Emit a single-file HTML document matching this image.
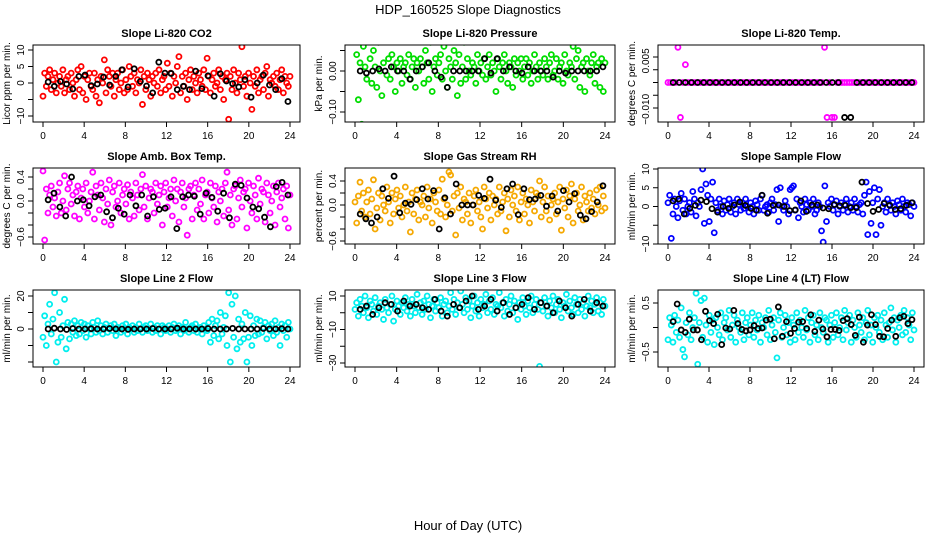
<!DOCTYPE html>
<html><head><meta charset="utf-8"><style>
html,body{margin:0;padding:0;background:#fff}
svg{display:block;font-family:"Liberation Sans",sans-serif}
</style></head><body>
<svg id="chart" width="936" height="540" viewBox="0 0 936 540" xmlns="http://www.w3.org/2000/svg">
<text x="468" y="14" text-anchor="middle" font-size="13">HDP_160525  Slope Diagnostics</text>
<text x="468" y="530" text-anchor="middle" font-size="13">Hour of Day (UTC)</text>
</svg>
<script>
const xTicks=[0,4,8,12,16,20,24];
const co2Vals=[-4,3,-1,2,4,-2,1,3,-3,0,2,-1,4,-3,1,2,-2,3,0,-4,1,4,-2,5,-3,2,-5,1,3,-1,-2,3,-4,1,-6,2,0,7,-3,4,2,-1,3,-4,1,3,-2,0,4,-3,1,-2,5,2,-1,3,-3,1,0,4,-6.5,2,-2,3,1,-4,2,0,3,-1,4,-3,1,2,-2,6,-1,3,-4,2,0,5,8,-3,2,-1,3,-5,1,4,-2,2,0,-3,3,1,-1,4,-2,7.5,2,-3,1,3,-1,0,4,-2,2,-5,1,3,-11,2,-2,4,0,-3,3,1,11,-1,2,-4,3,0,-8,2,-1,4,-3,1,2,-2,3,5,-4,1,0,2,-1,3,-2,1,4,-3,2,0,-1,2];
const co2Black=[0.3,-1,0.5,-0.3,-1.8,2,2.4,-0.8,-0.3,1.8,-0.6,2,4,-1.2,4.3,0.5,-0.9,-3,6.3,3,2.9,-2,-1,-2,3.6,-1.7,2.2,-4,2.8,0.6,-0.2,-1.2,1,-4.3,0,2.4,-0.6,-2,1.3,-5.6];
const presVals=[.1,.04,-.07,.02,-.13,.06,.01,-.02,.08,.03,-.03,.05,.01,-.04,.07,0,-.06,.02,.09,-.01,.03,-.02,.04,.01,-.05,.02,0,.03,-.03,.01,.02,-.01,.04,-.02,.01,.03,-.04,.02,0,.03,.01,-.03,.05,.02,-.02,.07,-.05,.01,.03,-.01,.02,.04,-.02,.06,0,-.04,.03,.01,-.02,.05,.02,-.06,.04,-.03,.01,.07,-.02,.03,0,-.01,.02,.01,-.03,.04,0,.02,-.01,.03,-.02,.01,.04,-.01,.02,0,-.05,.03,.01,-.02,.02,.04,0,-.03,.02,.01,-.04,.03,-.01,.02,0,.03,-.02,.01,.03,-.01,.02,-.03,0,.04,.01,-.02,.02,0,-.01,.03,.01,-.02,.02,.04,-.01,0,.03,-.02,.01,.02,-.03,.04,0,-.01,.02,.01,.06,-.02,.03,.05,-.04,.01,.02,-.05,.03,0,-.01,.02,.04,-.03,.01,.02,-.04,.03,-.05,.02];
const presBlack=[0,-.005,0,.005,0,.01,0,0,-.02,0,.01,.02,0,-.015,-.04,0,0,0,0,0,.03,-.005,.03,0,.01,0,-.005,.01,0,0,0,-.015,0,-.005,0,0,0,0,0,.01];
const tempVals=[0,0,0,0,.0138,-.0137,0,.007,0,0,0,0,0,0,0,0,0,0,0,0,0,0,0,0,0,0,0,0,0,0,0,0,0,0,0,0,0,0,0,0,0,0,0,0,0,0,0,0,0,0,0,0,0,0,0,0,0,0,0,0,0,0,0,.0138,-.0137,0,-.0137,-.0137,0,0,0,0,0,0,0,0,0,0,0,0,0,0,0,0,0,0,0,0,0,0,0,0,0,0,0,0,0,0,0,0];
const tempBlack=[0,0,0,0,0,0,0,0,0,0,0,0,0,0,0,0,0,0,0,0,0,0,0,0,0,0,0,0,-.0137,-.0137,0,0,0,0,0,0,0,0,0,0];
const ambVals=[.5,-.65,.2,-.2,.1,.25,-.1,.05,-.25,.15,.3,-.2,0,.42,-.15,.2,.3,-.05,.1,-.25,.15,.25,-.3,.05,.2,-.1,.3,-.2,0,.15,.48,-.3,.25,.1,-.15,.3,.05,-.35,.2,-.05,.35,-.4,.15,.25,-.1,0,.3,-.2,.1,.2,-.05,.27,-.3,.15,.05,-.25,.3,.1,-.15,.2,.44,-.1,.25,-.3,.05,.2,.15,-.2,.3,-.05,.1,.25,-.4,.15,.3,-.1,.05,.2,-.25,.35,0,.2,-.35,.15,.3,-.1,.05,-.57,.2,.25,-.3,.1,.3,-.15,.2,-.05,.35,-.3,.1,.15,-.2,.3,.05,-.1,.25,-.35,.15,0,.2,-.25,.3,.48,-.15,.1,-.4,.2,.25,-.3,.05,.35,-.1,.15,.2,-.45,.3,0,-.2,.25,.1,-.3,.38,-.05,.2,.15,-.35,.3,.1,-.2,0,.25,-.4,.15,.3,-.1,.05,.2,-.3,.25,-.45,.1];
const ambBlack=[.02,.13,-.1,-.25,.4,0,.02,-.08,.07,.1,-.18,-.28,-.12,-.22,.1,-.08,.1,-.25,.07,-.14,-.12,.07,-.46,.07,.1,.08,-.22,.13,.06,-.17,.13,-.28,.28,.26,.05,-.1,-.13,-.27,-.43,.24,.31,.1];
const rhVals=[.05,-.3,.15,.38,-.1,.2,-.2,.05,.25,-.15,.1,.42,-.4,-.05,.2,-.25,.15,0,-.1,.3,.05,-.3,.2,-.15,.1,.25,-.05,.15,-.2,0,.3,-.1,.05,-.45,.2,-.15,.1,.25,-.25,.05,0,.15,-.2,.3,-.05,.1,-.3,.2,.05,-.1,.25,-.15,.43,.1,-.2,0,.55,.5,-.1,.15,-.5,.2,-.05,.3,-.25,.1,.05,-.15,.2,-.3,0,.15,.25,-.1,.05,-.2,-.4,.3,.1,-.05,.2,-.25,.15,0,.1,-.15,.3,-.1,.05,.2,-.43,.1,-.2,.25,0,.15,-.1,.3,-.25,.05,.2,-.15,.1,0,-.3,.25,.05,-.1,.2,.15,.4,-.2,.05,.3,-.1,.15,-.25,0,.1,.2,-.15,.05,.3,-.42,.1,-.05,.25,-.2,.15,.35,-.3,.1,.2,-.1,0,.3,-.25,.15,.05,-.1,.2,-.05,.1,-.15,.25,0,.3,-.1,.15,-.05];
const rhBlack=[-.15,-.23,-.3,-.2,.27,.11,.48,-.13,.03,.01,.09,.27,.1,.24,-.4,.12,-.15,.35,0,0,0,.16,.11,.43,.08,-.04,.27,.35,-.16,.27,.09,.1,.16,-.02,.15,-.1,.24,.05,.19,-.17,-.23,-.11,.05,.32];
const sflVals=[1,3,-8.5,-2,2,0,-3,1.5,3.5,-1,2,-2,0,1,-1.5,4,2,-2.5,1,0,4.5,10,-4.5,6,3,-4,2,6.5,-7,1,-1,2,0,-2,1.5,-1,0.5,2,-1.5,0,1,-2,2,0.5,-1,1,-0.5,2,0,-1.5,1,0,-2,1.5,0.5,-1,2,3,-1,0,0.5,-1.5,1,2,-1,0.5,4.5,-4,5,0,-1,1.5,0,-2,4.5,5,5.5,-1,2,-3,1,0,-1.5,2,0.5,-1,1,0,2,-2,-1,1,0,-6.5,-9.5,5.5,-4,1,0,2,-1,0.5,1.5,-2,0,1,-1,0.5,2,-1.5,0,1,-1,2,0,-1.5,0.5,1,-2,3,6.5,-7.5,4,-4.5,1,5,-7.5,2,4.5,-5,0,1,-1.5,2,0.5,-1,1,0,-2,1.5,0.5,-1,2,0,-1.5,1,0.5,-2.5,1,0];
const sflBlack=[1.5,2,-2,-0.5,0.3,1.7,1.3,-0.6,-1.5,0,-0.5,0.4,1.2,0.3,-0.5,-1,3,-1.8,0.3,0.4,0,-1.1,-0.9,1.5,-1.3,0.4,0.4,-0.4,-0.6,0.5,0.2,0.3,-0.3,-0.3,6.5,0.8,-1.3,-0.8,0.8,0.3,-0.8,-0.6,0.3,1];
const l2Vals=[-5,8,-10,3,15,-3,6,22,-20,-8,10,-5,2,18,-12,4,-6,3,-2,5,-4,2,-3,4,-1,3,-5,2,0,-3,4,1,-2,5,-1,2,-3,1,3,-2,0,2,-1,3,-4,1,0,-2,2,-1,3,-3,1,0,2,-2,1,-1,3,0,-2,1,2,-1,0,3,-2,1,-1,2,0,-3,2,1,-1,0,2,-2,1,3,-1,0,2,-3,1,-1,4,0,-2,1,2,-1,3,-2,0,1,-3,2,0,-1,4,-8,6,-4,2,5,-6,10,-3,1,8,-10,22,-20,15,-5,20,-12,6,-8,3,-6,10,-20,-5,8,-10,2,-4,6,-3,5,-2,1,4,-6,2,-1,3,-4,5,-2,1,-10,3,-1,2,-5,4,0];
const l2Black=[0,0.5,0,-0.3,0.3,0,0,0.2,0,0,0.3,0,0,-0.2,0,0,0,0.3,0,0,0,0.5,0,0,0,0,0.3,0,0,0,0.4,0,0,0,0,0.3,0,0,0.2,0];
const l3Vals=[2,6,-2,8,4,0,10,3,-3,7,5,1,9,-1,4,6,2,-4,8,3,0,5,10,-5,2,7,4,-1,6,3,9,1,5,-2,8,4,0,11,3,6,-1,7,2,10,5,-3,4,8,1,6,3,9,-2,5,7,0,4,12,2,8,-1,6,3,13,5,0,9,2,7,-3,4,10,1,6,-2,8,3,5,11,0,7,2,9,-1,5,4,12,3,6,-2,8,1,5,10,0,7,3,-4,6,2,9,4,-1,7,3,10,0,5,8,2,-32,6,1,9,4,-2,7,3,10,0,5,8,2,-3,6,4,11,1,7,3,-1,9,5,0,8,2,6,-2,4,10,3,7,0,5,9,1,6,-1,8,4];
const l3Black=[2,4,-1,3,6,5,1,7,4,5,3,2,8,1,-2,5,3,7,10,2,4,8,1,6,-1,3,5,9,2,6,4,0,7,3,-2,5,8,1,6,4];
const l4Vals=[-.25,.2,.05,-.3,.25,-.1,.15,-.2,.4,-.45,-.6,.1,-.15,.3,-.25,0,.2,.7,-.75,.1,.55,-.2,.6,.05,-.3,.25,-.1,.15,-.35,.2,0,-.15,.3,-.25,.1,.2,-.05,.35,-.2,.05,.25,-.3,.15,0,-.1,.3,-.25,.1,.2,-.15,.05,.3,-.2,.15,-.05,.25,-.3,.1,0,.2,-.15,.35,-.25,.05,.2,-.1,-.62,.15,.3,-.2,0,.25,-.15,.1,-.3,.2,.05,-.25,.3,-.1,.15,0,-.2,.35,-.05,.2,-.3,.1,.25,-.15,.05,-.25,.3,0,-.1,.2,.15,-.3,.05,.25,-.2,.1,.3,-.15,0,.2,-.25,.35,-.05,.1,.25,-.3,.15,0,-.2,.3,.05,-.1,.2,-.25,.1,.35,-.15,.05,-.3,.2,0,.25,-.1,.15,-.25,.3,.05,-.2,.1,.4,-.05,.2,-.3,.15,0,.25,-.15,.35,-.1,.2,.05,-.25,.3,-.05];
const l4Black=[.12,.48,-.05,-.1,.17,-.05,-.05,-.25,.33,.14,.08,.27,-.35,-.01,-.03,.35,.08,-.04,-.07,-.05,.04,-.02,-.01,.15,.17,-.23,.42,-.18,.12,-.12,-.02,.11,.12,-.02,.26,-.08,.15,-.03,-.19,-.04,-.04,-.06,.14,.18,.06,-.16,.21,-.3,.05,.26,.06,-.18,-.19,-.02,.15,-.18,.2,.23,.08,.16];

const NS='http://www.w3.org/2000/svg';
const svg=document.getElementById('chart');
const cols=[{l:33,r:300,x0:43,x24:290},{l:345,r:615,x0:355,x24:605},{l:658,r:924,x0:668,x24:914}];
const rows=[{t:45,b:122},{t:168,b:244},{t:290,b:367}];
function mk(tag,attrs,parent){const e=document.createElementNS(NS,tag);for(const k in attrs)e.setAttribute(k,attrs[k]);(parent||svg).appendChild(e);return e;}
const panels=[
 {c:0,r:0,title:'Slope Li-820 CO2',yl:'Licor ppm per min.',v1:10,p1:50,v2:-10,p2:116,ticks:[10,5,0,-5,-10],labels:[10,5,0,-10],lt:['10','5','0','\u221210'],col:'#ff0000',vals:co2Vals,blk:co2Black},
 {c:1,r:0,title:'Slope Li-820 Pressure',yl:'kPa per min.',v1:0,p1:71,v2:-0.1,p2:112,ticks:[0.05,0,-0.05,-0.1],labels:[0,-0.1],lt:['0.00','\u22120.10'],col:'#00dd00',vals:presVals,blk:presBlack},
 {c:2,r:0,title:'Slope Li-820 Temp.',yl:'degrees C per min.',v1:0.01,p1:57,v2:-0.01,p2:108,ticks:[0.01,0.005,0,-0.005,-0.01],labels:[0.0085,-0.0105],lt:['0.005','\u22120.010'],col:'#ff00ff',vals:tempVals,blk:tempBlack},
 {c:0,r:1,title:'Slope Amb. Box Temp.',yl:'degrees C per min.',v1:0.4,p1:177,v2:-0.6,p2:237,ticks:[0.4,0.2,0,-0.2,-0.4,-0.6],labels:[0.4,0,-0.6],lt:['0.4','0.0','\u22120.6'],col:'#ff00ff',vals:ambVals,blk:ambBlack},
 {c:1,r:1,title:'Slope Gas Stream RH',yl:'percent per min.',v1:0.4,p1:181,v2:-0.6,p2:241,ticks:[0.4,0.2,0,-0.2,-0.4,-0.6],labels:[0.4,0,-0.6],lt:['0.4','0.0','\u22120.6'],col:'#f5a800',vals:rhVals,blk:rhBlack},
 {c:2,r:1,title:'Slope Sample Flow',yl:'ml/min per min.',v1:10,p1:169,v2:-10,p2:244,ticks:[10,5,0,-5,-10],labels:[10,5,0,-10],lt:['10','5','0','\u221210'],col:'#0000ff',vals:sflVals,blk:sflBlack},
 {c:0,r:2,title:'Slope Line 2 Flow',yl:'ml/min per min.',v1:20,p1:296,v2:0,p2:329,ticks:[20,10,0,-10,-20],labels:[20,0],lt:['20','0'],col:'#00eeee',vals:l2Vals,blk:l2Black},
 {c:1,r:2,title:'Slope Line 3 Flow',yl:'ml/min per min.',v1:10,p1:296,v2:-30,p2:363,ticks:[10,0,-10,-20,-30],labels:[10,-10,-30],lt:['10','\u221210','\u221230'],col:'#00eeee',vals:l3Vals,blk:l3Black},
 {c:2,r:2,title:'Slope Line 4 (LT) Flow',yl:'ml/min per min.',v1:0.5,p1:303,v2:-0.5,p2:352,ticks:[0.5,0,-0.5],labels:[0.5,-0.5],lt:['0.5','\u22120.5'],col:'#00eeee',vals:l4Vals,blk:l4Black}
];
panels.forEach((P,pi)=>{
 const C=cols[P.c],R=rows[P.r];
 const g=mk('g',{});
 
 
 const xs=h=>C.x0+(C.x24-C.x0)*h/24;
 const ys=v=>P.p1+(P.p2-P.p1)*(v-P.v1)/(P.v2-P.v1);
 const t=mk('text',{x:(C.l+C.r)/2,y:R.t-8,'text-anchor':'middle','font-size':'11','font-weight':'bold'},g);
 t.textContent=P.title;
 
 
 const clip=mk('clipPath',{id:'cp'+pi},g);
 mk('rect',{x:C.l,y:R.t,width:C.r-C.l,height:R.b-R.t},clip);
 const pts=mk('g',{'clip-path':'url(#cp'+pi+')'},g);
 
 
 P.vals.forEach((v,i)=>{
  const c=mk('circle',{cx:xs(i*24/(P.vals.length-1)),cy:ys(v),r:2.5,fill:'none',stroke:P.col,'stroke-width':1.8},pts);
  
  
 });
 P.blk.forEach((v,i)=>{
  const c=mk('circle',{cx:xs(0.5+i*23.3/(P.blk.length-1)),cy:ys(v),r:2.5,fill:'none',stroke:'#000','stroke-width':1.8},pts);
  
  
 });
 const box=mk('rect',{x:C.l,y:R.t,width:C.r-C.l,height:R.b-R.t,fill:'none',stroke:'#000','stroke-width':1},g);
 
 
 xTicks.forEach(h=>{
  mk('line',{x1:xs(h),x2:xs(h),y1:R.b,y2:R.b+5,stroke:'#000'},g);
  const l=mk('text',{x:xs(h),y:R.b+17,'text-anchor':'middle','font-size':'10'},g);
  l.textContent=h;
  
  
 });
 P.ticks.forEach(v=>{mk('line',{x1:C.l-5,x2:C.l,y1:ys(v),y2:ys(v),stroke:'#000'},g);});
 P.labels.forEach((v,i)=>{
  const x=C.l-9,y=ys(v);
  const l=mk('text',{x:x,y:y,'text-anchor':'middle','font-size':'10',transform:'rotate(-90 '+x+' '+y+')'},g);
  l.textContent=P.lt[i];
  
  
 });
 const yx=C.l-23,yy=(R.t+R.b)/2;
 const yl=mk('text',{x:yx,y:yy,'text-anchor':'middle','font-size':'10',transform:'rotate(-90 '+yx+' '+yy+')'},g);
 yl.textContent=P.yl;
 
 
});
</script>
</body></html>
